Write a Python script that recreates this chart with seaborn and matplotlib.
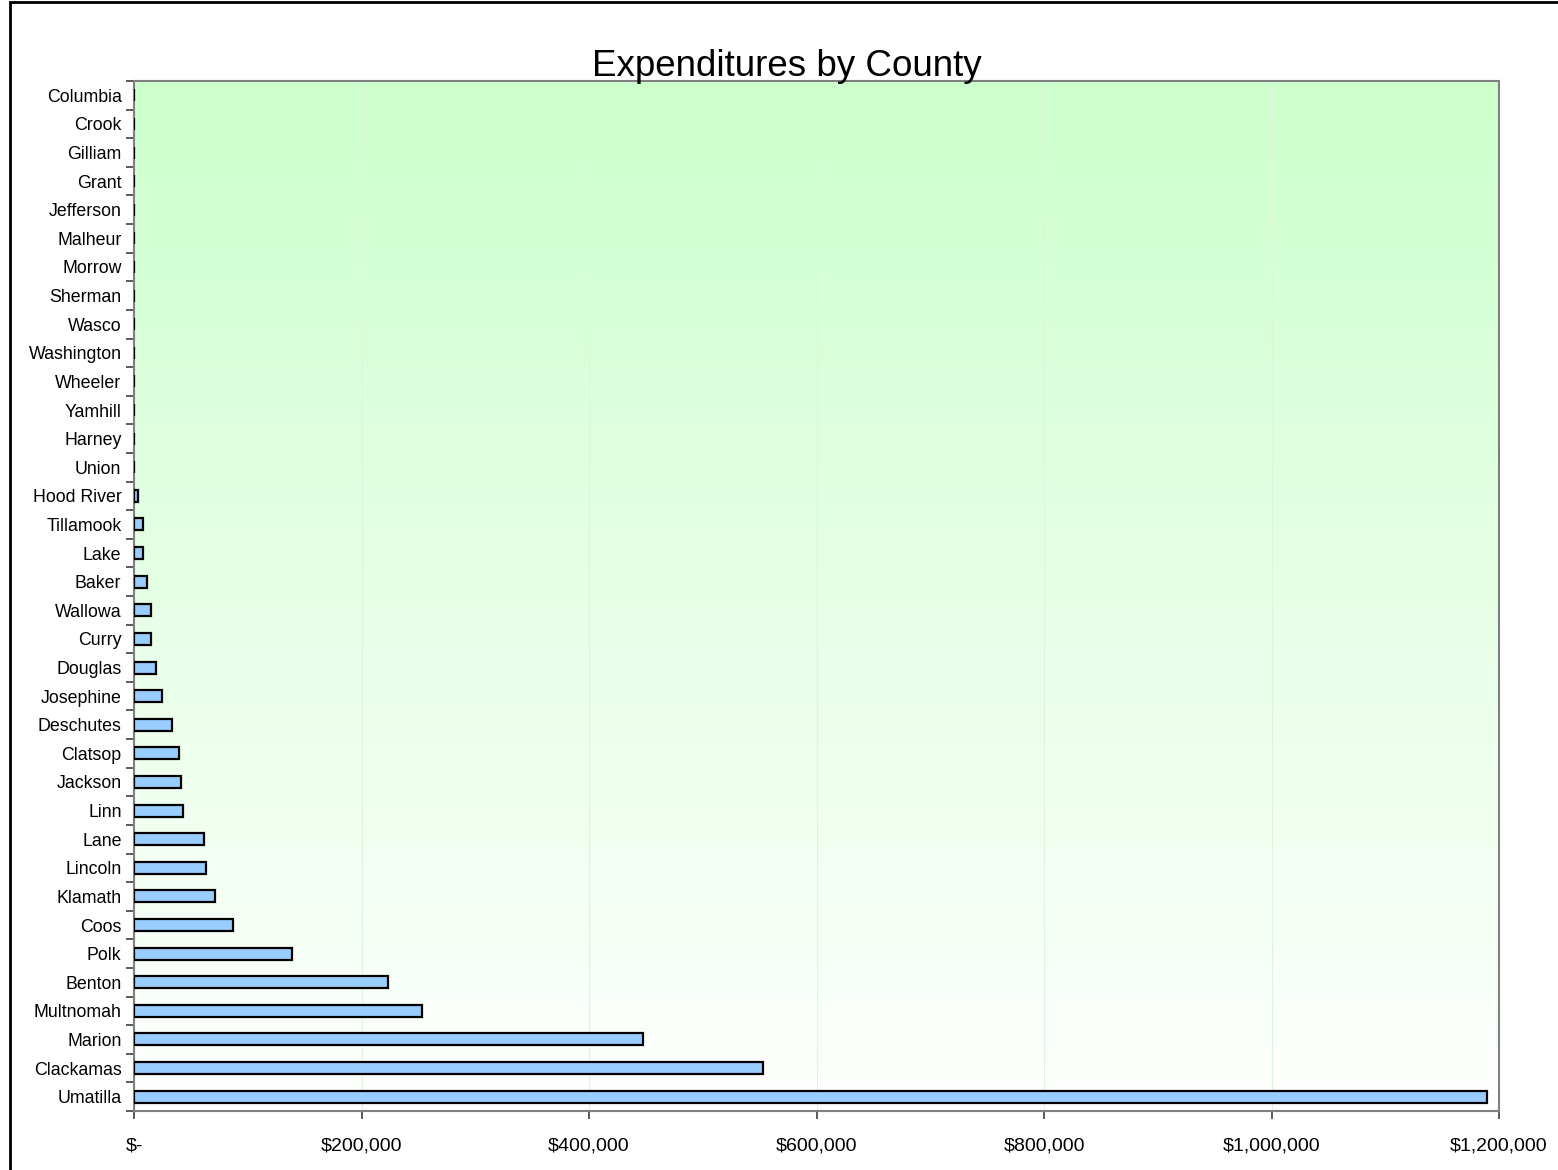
import numpy as np
import pandas as pd
import matplotlib
matplotlib.use('Agg')
import matplotlib.pyplot as plt
from matplotlib.ticker import FuncFormatter
from matplotlib.patches import Rectangle
import seaborn as sns

counties = ['Columbia', 'Crook', 'Gilliam', 'Grant', 'Jefferson', 'Malheur', 'Morrow',
            'Sherman', 'Wasco', 'Washington', 'Wheeler', 'Yamhill', 'Harney', 'Union',
            'Hood River', 'Tillamook', 'Lake', 'Baker', 'Wallowa', 'Curry', 'Douglas',
            'Josephine', 'Deschutes', 'Clatsop', 'Jackson', 'Linn', 'Lane', 'Lincoln',
            'Klamath', 'Coos', 'Polk', 'Benton', 'Multnomah', 'Marion', 'Clackamas',
            'Umatilla']
expenditures = [0, 0, 0, 0, 0, 0, 0,
                0, 0, 0, 0, 0, 0, 0,
                3500, 8200, 8200, 11100, 14600, 14600, 19000,
                24300, 33400, 39600, 41000, 42800, 61600, 63300,
                71300, 87100, 138700, 223700, 253500, 447700, 553000,
                1189700]

df = pd.DataFrame({'county': counties, 'amount': expenditures})

sns.set_style('white')
plt.rcParams['font.family'] = ['Liberation Sans', 'DejaVu Sans']
plt.rcParams['text.color'] = 'black'
plt.rcParams['xtick.color'] = 'black'
plt.rcParams['ytick.color'] = 'black'

fig = plt.figure(figsize=(15.58, 11.7), dpi=100)
ax = fig.add_axes([134 / 1558, 1 - 1111 / 1170, (1499 - 134) / 1558, (1111 - 81) / 1170])

# gradient background, light green at top fading to white
grad = np.linspace(0, 1, 256).reshape(-1, 1)
top = np.array([0xCC, 0xFF, 0xCC]) / 255
bottom = np.array([1.0, 1.0, 1.0])
img = top * (1 - grad[..., None]) + bottom * grad[..., None]
img = img.reshape(256, 1, 3)
ax.imshow(img, extent=[0, 1, 0, 1], transform=ax.transAxes, aspect='auto', zorder=0)

sns.barplot(data=df, x='amount', y='county', orient='h', color='#99CCFF',
            edgecolor='black', linewidth=1.6, width=0.42, saturation=1, ax=ax, zorder=3)

ax.set_xlim(0, 1200000)
ax.set_ylim(len(counties) - 0.5, -0.5)
ax.set_xticks(np.arange(0, 1200001, 200000))
ax.xaxis.set_major_formatter(FuncFormatter(lambda v, p: '$-' if v == 0 else f'${v:,.0f}'))
ax.grid(axis='x', color='#DDF5DD', linewidth=0.8, zorder=1)
ax.set_axisbelow(True)

ax.set_xlabel('')
ax.set_ylabel('')
fig.text(787 / 1558, 1 - 76 / 1170, 'Expenditures by County', fontsize=26.5,
         ha='center', va='baseline', color='black', zorder=10)

for s in ax.spines.values():
    s.set_color('#808080')
    s.set_linewidth(1.5)

ax.set_yticks(np.arange(len(counties) + 1) - 0.5, minor=True)
ax.tick_params(axis='y', which='major', length=0, labelsize=12.8, pad=9)
ax.tick_params(axis='y', which='minor', length=6, width=1.2, color='#404040', left=True)
ax.tick_params(axis='x', which='major', length=6, width=1.2, color='#404040', bottom=True,
               labelsize=14, pad=13)

# outer chart border (only top and left edges fall inside the image)
fig.patches.append(Rectangle((10 / 1558, -0.5), 2.0, 1.5 - 2 / 1170, transform=fig.transFigure,
                             fill=False, edgecolor='black', linewidth=2))

fig.savefig('out.png', dpi=100)
